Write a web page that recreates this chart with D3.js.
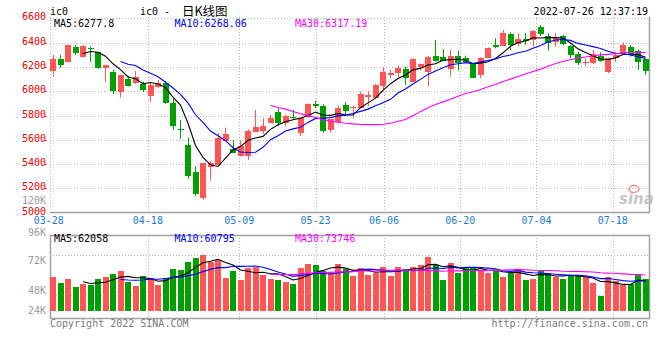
<!DOCTYPE html>
<html><head><meta charset="utf-8">
<script src="https://cdn.jsdelivr.net/npm/d3@7"></script>
<style>
body{margin:0;background:#fff}
svg{display:block}
text{font-family:"DejaVu Sans Mono","Liberation Mono",monospace;font-size:10px}
</style>
</head><body>
<svg id="chart" width="660" height="360"></svg>
<script>
// ---------- data ----------
const dates = ["03-29","03-30","03-31","04-01","04-06","04-07","04-08","04-11","04-12","04-13","04-14","04-15",
"04-18","04-19","04-20","04-21","04-22","04-25","04-26","04-27","04-28","04-29","05-05","05-06",
"05-09","05-10","05-11","05-12","05-13","05-16","05-17","05-18","05-19","05-20",
"05-23","05-24","05-25","05-26","05-27","05-30","05-31","06-01","06-02",
"06-06","06-07","06-08","06-09","06-10","06-13","06-14","06-15","06-16","06-17",
"06-20","06-21","06-22","06-23","06-24","06-27","06-28","06-29","06-30","07-01",
"07-04","07-05","07-06","07-07","07-08","07-11","07-12","07-13","07-14","07-15",
"07-18","07-19","07-20","07-21","07-22","07-25","07-26"];
const calendarDates = ["03-28"].concat(dates);
const tickLabels = ["03-28","04-18","05-09","05-23","06-06","06-20","07-04","07-18"];

const open  = [6169,6267,6243,6367,6284,6353,6320,6194,6161,5997,6099,6066,6057,5964,6038,6066,5901,5690,5558,5339,
5125,5380,5395,5591,5528,5470,5468,5665,5676,5742,5832,5742,5791,5660,5786,5896,5879,5682,5750,5887,
5860,5860,5956,5947,6043,6134,6153,6186,6079,6197,6161,6290,6279,6181,6290,6271,6230,6134,6276,6380,
6372,6471,6389,6430,6422,6531,6455,6403,6457,6372,6307,6235,6230,6293,6156,6276,6312,6362,6331,6263];
const high  = [6298,6298,6385,6380,6380,6368,6325,6216,6175,6134,6126,6167,6079,6071,6093,6085,5942,5764,5619,5380,
5413,5427,5655,5701,5600,5595,5688,5846,5778,5805,5860,5805,5846,5783,5900,5923,5896,5770,5879,5910,
5879,5997,6002,6060,6197,6175,6210,6202,6271,6230,6290,6422,6348,6339,6334,6293,6238,6279,6360,6436,
6504,6485,6477,6477,6504,6545,6477,6477,6463,6380,6325,6271,6339,6320,6276,6325,6403,6380,6345,6263];
const low   = [6120,6196,6238,6298,6276,6241,6183,6074,5978,5947,6038,6060,5992,5914,6025,5896,5682,5608,5279,5139,
5106,5265,5380,5591,5490,5460,5435,5665,5649,5737,5715,5709,5764,5632,5780,5860,5660,5660,5731,5799,
5778,5860,5879,5947,6016,6107,6115,6052,6074,6175,6038,6243,6248,6120,6169,6235,6107,6107,6270,6353,
6372,6339,6367,6380,6367,6455,6334,6367,6380,6271,6216,6208,6224,6243,6148,6238,6304,6284,6175,6134];
const close = [6265,6216,6380,6315,6372,6350,6189,6216,6002,6134,6046,6115,6011,6052,6071,5901,5717,5686,5306,5156,
5413,5411,5615,5649,5495,5550,5674,5706,5715,5783,5742,5797,5786,5783,5896,5879,5676,5770,5860,5840,
5873,5978,5970,6052,6161,6148,6194,6112,6263,6222,6284,6251,6251,6293,6235,6243,6112,6271,6353,6367,
6477,6380,6430,6413,6496,6471,6394,6436,6386,6298,6230,6243,6304,6251,6276,6298,6380,6307,6243,6169];
const volume = [58640,53840,56800,50640,52800,52000,56800,58640,60800,63440,54640,51200,59200,57840,52000,57360,64800,64000,70640,73840,
76000,70640,72000,57840,63200,56000,65840,66160,60000,56800,56000,54640,52800,65600,68800,68000,63200,62640,68800,64800,
59200,65600,60000,61600,66640,59200,66640,65040,66640,68000,74640,68000,56000,69840,62000,65360,65360,64000,62000,63200,
58640,62640,64000,56000,56800,62960,61360,58640,56800,58960,60000,58640,53360,43200,58160,55200,52400,52800,60800,56800];

const priceTicks = [6600,6400,6200,6000,5800,5600,5400,5200,5000];
const volTicks = [120000,96000,72000,48000,24000];
const volTickLabels = ["120K","96K","72K","48K","24K"];
const maPeriods = [5,10,30];
const maColors = ["#000000","#0000ff","#ff00ff"];
const mainHeader = ["MA5:6277.8","MA10:6268.06","MA30:6317.19"];
const volHeader = ["MA5:62058","MA10:60795","MA30:73746"];

// ---------- layout ----------
const L = 50, R = 649;
const mTop = 17, mBot = 212.7;
const vTop = 235, vBot = 318, vBase = 311;
const UP = "#ff5555", DOWN = "#00a000";
const GRID = "#b4b4b4", BORDER = "#a0a0a0";

const svg = d3.select("#chart");

const x = d3.scaleBand().domain(dates).range([49.25, 649.25]).paddingInner(0.2).paddingOuter(0.1);
const bw = x.bandwidth();
const cx = d => Math.floor(x(d) + bw / 2) + 0.5;
const xl = d3.scalePoint().domain(calendarDates).range([48.8, 658.4]);
const y = d3.scaleLinear().domain([5000, 6600]).range([mBot, 18.3]);
const yv = d3.scaleLinear().domain([24000, 120000]).range([320, 200]);

function ma(arr, n) {
  return arr.map((_, i) => i < n - 1 ? null : d3.mean(arr.slice(i - n + 1, i + 1)));
}

// ---------- grids ----------
const g = svg.append("g");
g.selectAll(".hg").data(priceTicks.slice(0, -1)).join("line")
  .attr("x1", L).attr("x2", R).attr("y1", d => Math.round(y(d)) + 0.5).attr("y2", d => Math.round(y(d)) + 0.5)
  .attr("stroke", GRID).attr("stroke-dasharray", "1,2");
const vt = tickLabels.slice(1);
g.selectAll(".vg1").data(vt).join("line")
  .attr("x1", d => Math.round(xl(d)) + 0.5).attr("x2", d => Math.round(xl(d)) + 0.5)
  .attr("y1", mTop).attr("y2", mBot)
  .attr("stroke", GRID).attr("stroke-dasharray", "1,2");
g.selectAll(".vg2").data(vt).join("line")
  .attr("x1", d => Math.round(xl(d)) + 0.5).attr("x2", d => Math.round(xl(d)) + 0.5)
  .attr("y1", vTop).attr("y2", vBot + 4)
  .attr("stroke", GRID).attr("stroke-dasharray", "1,2");
g.selectAll(".vh").data([vTop + 20, vTop + 60]).join("line")
  .attr("x1", L).attr("x2", R).attr("y1", d => d + 0.5).attr("y2", d => d + 0.5)
  .attr("stroke", GRID).attr("stroke-dasharray", "1,2");

// borders
g.append("line").attr("x1", L + 0.5).attr("x2", L + 0.5).attr("y1", mTop).attr("y2", mBot).attr("stroke", GRID).attr("stroke-dasharray", "1,2");
g.append("line").attr("x1", R + 0.5).attr("x2", R + 0.5).attr("y1", mTop).attr("y2", mBot).attr("stroke", BORDER).attr("stroke-width", 1.5);
g.append("line").attr("x1", L).attr("x2", R + 1).attr("y1", 212.5).attr("y2", 212.5).attr("stroke", BORDER).attr("stroke-width", 1.5);
g.append("rect").attr("x", L + 0.5).attr("y", vTop + 0.5).attr("width", R - L).attr("height", vBot - vTop)
  .attr("fill", "none").attr("stroke", BORDER).attr("stroke-width", 1.5);

// ---------- candles ----------
const idx = d3.range(dates.length);
const col = i => close[i] >= open[i] ? UP : DOWN;
const cg = svg.append("g");
cg.selectAll(".wick").data(idx).join("line")
  .attr("x1", i => cx(dates[i])).attr("x2", i => cx(dates[i]))
  .attr("y1", i => y(high[i])).attr("y2", i => y(low[i]))
  .attr("stroke", col);
cg.selectAll(".body").data(idx).join("rect")
  .attr("x", i => x(dates[i])).attr("width", bw)
  .attr("y", i => y(Math.max(open[i], close[i])))
  .attr("height", i => Math.max(1, y(Math.min(open[i], close[i])) - y(Math.max(open[i], close[i]))))
  .attr("fill", col).attr("shape-rendering", "crispEdges");

// ---------- volume bars ----------
svg.append("g").selectAll("rect").data(idx).join("rect")
  .attr("x", i => x(dates[i])).attr("width", bw)
  .attr("y", i => yv(volume[i])).attr("height", i => vBase - yv(volume[i]))
  .attr("fill", col).attr("shape-rendering", "crispEdges");

// ---------- moving averages ----------
maPeriods.forEach((n, k) => {
  const pm = ma(close, n), vm = ma(volume, n);
  const lp = d3.line().defined(d => d[1] !== null).x(d => x(d[0]) + bw / 2).y(d => y(d[1]));
  const lv = d3.line().defined(d => d[1] !== null).x(d => x(d[0]) + bw / 2).y(d => yv(d[1]));
  svg.append("path").datum(dates.map((d, i) => [d, pm[i]])).attr("d", lp)
    .attr("fill", "none").attr("stroke", maColors[k]).attr("stroke-width", 1.1);
  svg.append("path").datum(dates.map((d, i) => [d, vm[i]])).attr("d", lv)
    .attr("fill", "none").attr("stroke", maColors[k]).attr("stroke-width", 1.1);
});

// ---------- axes labels ----------
const yl = svg.append("g");
yl.selectAll("text").data(priceTicks).join("text")
  .attr("x", 46).attr("y", d => y(d) + 2).attr("text-anchor", "end")
  .attr("fill", "#e60000").attr("font-size", 10.5).text(d => d);
yl.selectAll(".tk").data(priceTicks.slice(1, -1)).join("rect")
  .attr("x", 45).attr("y", d => Math.round(y(d))).attr("width", 1.5).attr("height", 1).attr("fill", "#e60000");

function volLabelY(d) {
  let t = yv(d) + 4;
  if (t > vTop - 3 && t < vTop + 1) t = vTop + 1;   // keep clear of the date labels
  return Math.min(t, 314);                           // keep inside the panel bottom
}
svg.append("g").selectAll("text").data(volTicks).join("text")
  .attr("x", 46).attr("y", volLabelY).attr("text-anchor", "end")
  .attr("fill", "#9a9a9a").attr("font-size", 10).text((d, i) => volTickLabels[i]);

svg.append("g").selectAll("text").data(tickLabels).join("text")
  .attr("x", d => xl(d)).attr("y", 224).attr("text-anchor", "middle")
  .attr("fill", "#1a7bd4").attr("font-size", 10.5).text(d => d);

// ---------- header texts ----------
svg.append("text").attr("x", 50).attr("y", 15).attr("fill", "#000").text("ic0");
svg.append("text").attr("x", 140).attr("y", 15).attr("fill", "#000").text("ic0 -");
svg.append("text").attr("x", 182).attr("y", 15.5).attr("fill", "#000")
  .style("font-family", "'Noto Sans CJK SC',sans-serif").style("font-size", "12.5px").text("日K线图");
svg.append("text").attr("x", 648).attr("y", 15).attr("text-anchor", "end").attr("fill", "#000").text("2022-07-26 12:37:19");

const hx = [54, 174.5, 295];
svg.append("g").selectAll("text").data(mainHeader).join("text")
  .attr("x", (d, i) => hx[i]).attr("y", 27).attr("fill", (d, i) => maColors[i]).attr("font-size", 10.5).text(d => d);
svg.append("g").selectAll("text").data(volHeader).join("text")
  .attr("x", (d, i) => hx[i]).attr("y", 242).attr("fill", (d, i) => maColors[i]).attr("font-size", 10.5).text(d => d);

svg.append("text").attr("x", 50).attr("y", 327).attr("fill", "#7a7a7a").attr("font-size", 10.5).text("Copyright 2022 SINA.COM");
svg.append("text").attr("x", 648).attr("y", 327).attr("text-anchor", "end").attr("fill", "#7a7a7a").attr("font-size", 10.5).text("http://finance.sina.com.cn");

// sina watermark
const wm = svg.append("g").attr("opacity", 0.75);
wm.append("text").attr("x", 619).attr("y", 204).attr("fill", "#b4b4b4")
  .style("font-family", "'DejaVu Sans',sans-serif").style("font-size", "15px").style("font-style", "italic").style("font-weight", "bold").text("sina");
wm.append("ellipse").attr("cx", 634).attr("cy", 189).attr("rx", 5).attr("ry", 3.5).attr("fill", "none").attr("stroke", "#e07070").attr("stroke-width", 1.5);
</script>
</body></html>
